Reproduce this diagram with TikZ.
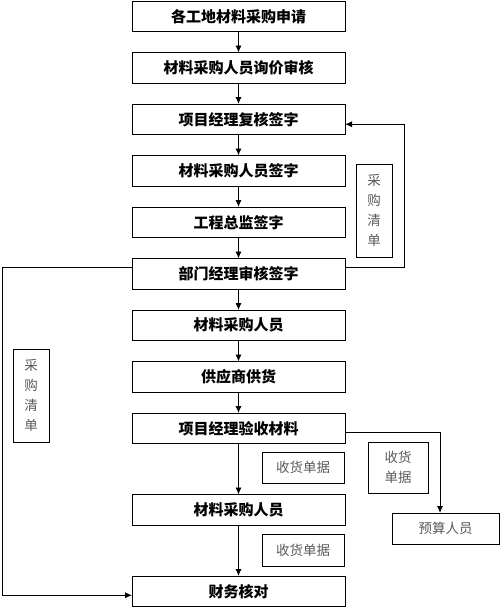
\documentclass[tikz,border=0pt]{standalone}
\usepackage{fontspec}
\newfontfamily\cjk{Noto Sans CJK SC}
\usetikzlibrary{positioning,arrows.meta}

\begin{document}
\begin{tikzpicture}[x=1pt,y=-1pt,
	every node/.style={align=center,
                        font=\cjk,
                        inner sep=1pt,
                        outer sep=0pt
                        },
	proc/.style= {draw,
    			  line width=1pt,
                  minimum width=213pt,
                  minimum height=30.5pt,
                  font=\cjk\bfseries\fontsize{15}{18}\selectfont
    },
	note/.style= {draw,
    			  line width=0.8pt,
                  text=black!65,
                  font=\cjk\fontsize{13.5}{20}\selectfont
    },
    every path/.style={line width=0.9pt},
    >={Latex[length=7pt,width=6pt]}
]
	\useasboundingbox (0,0) rectangle (500,608);
	\node (apply) [proc] at (238.5,16.25) {各工地材料采购申请};
    \node (inquiry) [proc, below = 21pt of apply] {材料采购人员询价审核};
    \node (pmsign) [proc, below = 21pt of inquiry] {项目经理复核签字};
    \node (buyersign) [proc, below = 21pt of pmsign] {材料采购人员签字};
    \node (supsign) [proc, below = 21pt of buyersign] {工程总监签字};
    \node (deptsign) [proc, below = 21pt of supsign] {部门经理审核签字};
    \node (buyer) [proc, below = 21pt of deptsign] {材料采购人员};
    \node (supply) [proc, below = 21pt of buyer] {供应商供货};
    \node (accept) [proc, below = 21pt of supply] {项目经理验收材料};
    \node (buyertwo) [proc, below = 51pt of accept] {材料采购人员};
    \node (finance) [proc, below = 51pt of buyertwo] {财务核对};
    \node (listr) [note, minimum width=36pt, minimum height=93pt] at (374,210.5) {采\\购\\清\\单};
    \node (listl) [note, minimum width=36pt, minimum height=93pt] at (31,395.5) {采\\购\\清\\单};
    \node (rcptone) [note, minimum width=82pt, minimum height=31pt] at (303,467.5) {收货单据};
    \node (rcpttwo) [note, minimum width=82pt, minimum height=32pt] at (303,550) {收货单据};
    \node (rcptr) [note, minimum width=60pt, minimum height=51pt] at (398,467.5) {收货\\单据};
    \node (budget) [note, minimum width=107pt, minimum height=31pt] at (445.5,528.5) {预算人员};
    \draw[->] (apply) -- (inquiry);
    \draw[->] (inquiry) -- (pmsign);
    \draw[->] (pmsign) -- (buyersign);
    \draw[->] (buyersign) -- (supsign);
    \draw[->] (supsign) -- (deptsign);
    \draw[->] (deptsign) -- (buyer);
    \draw[->] (buyer) -- (supply);
    \draw[->] (supply) -- (accept);
    \draw[->] (accept) -- (buyertwo);
    \draw[->] (buyertwo) -- (finance);
    \draw[->] ([yshift=6pt]deptsign.east) -- ++(59,0) |- ([yshift=-5pt]pmsign.east);
    \draw[->] ([yshift=6pt]deptsign.west) -- ++(-130,0) |- ([yshift=-4pt]finance.west);
    \draw[->] ([yshift=-4pt]accept.east) -| ([xshift=-5.5pt]budget.north);
\end{tikzpicture}
\end{document}
